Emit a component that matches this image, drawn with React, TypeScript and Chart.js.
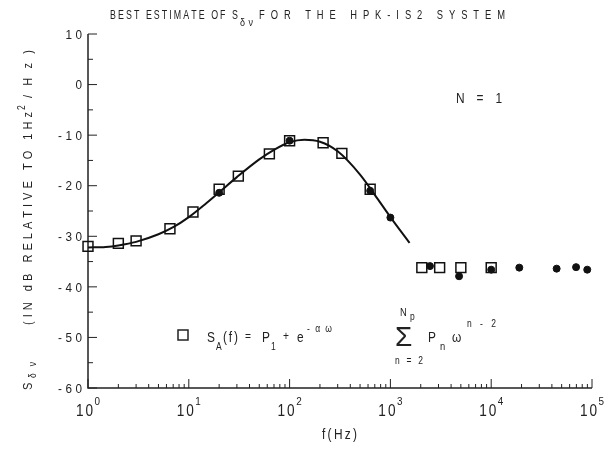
import { useEffect, useRef } from 'react';
import { Chart, registerables } from 'chart.js';

Chart.register(...registerables);

// ---- data ----
const curveFreq = [1, 1.5, 2, 3, 5, 7, 10, 15, 20, 30, 50, 70, 100, 140, 200, 300, 500, 700, 1000, 1550];
const curveDb = [-32.2, -32.1, -31.8, -31.1, -29.6, -28.2, -26.2, -23.4, -21.3, -18.3, -14.8, -12.9, -11.4, -10.9, -11.3, -13.2, -17.8, -21.8, -26.2, -31.3];

const squareFreq = [1, 2, 3, 6.5, 11, 20, 31, 63, 100, 215, 330, 630, 2050, 3080, 5000, 10000];
const squareDb = [-32.0, -31.4, -30.9, -28.5, -25.2, -20.7, -18.1, -13.7, -11.1, -11.5, -13.6, -20.7, -36.2, -36.2, -36.2, -36.2];

const dotFreq = [20, 100, 630, 1000, 2470, 4800, 10000, 19000, 44600, 69500, 89700];
const dotDb = [-21.4, -11.1, -21.0, -26.3, -35.9, -37.9, -36.6, -36.2, -36.4, -36.1, -36.6];

const yTickValues = [10, 0, -10, -20, -30, -40, -50, -60];
const xTickExponents = [0, 1, 2, 3, 4, 5];

const FONT = '"Liberation Sans", Arial, sans-serif';
const INK = '#222';

function charWidths(ctx: CanvasRenderingContext2D, text: string, size: number) {
  ctx.font = `${size}px ${FONT}`;
  return Array.from(text).map((ch) => ctx.measureText(ch).width);
}

function drawSpaced(ctx: CanvasRenderingContext2D, text: string, x: number, y: number, size: number, spacing: number, sx = 1) {
  const chars = Array.from(text);
  const ws = charWidths(ctx, text, size);
  let cx = x;
  chars.forEach((ch, i) => {
    ctx.save();
    ctx.translate(cx, y);
    ctx.scale(sx, 1);
    ctx.fillText(ch, 0, 0);
    ctx.restore();
    cx += ws[i] * sx + spacing;
  });
  return cx - spacing;
}

function spacedWidth(ctx: CanvasRenderingContext2D, text: string, size: number, spacing: number, sx = 1) {
  const ws = charWidths(ctx, text, size);
  return ws.reduce((a, b) => a + b * sx, 0) + spacing * (ws.length - 1);
}

function drawFit(ctx: CanvasRenderingContext2D, text: string, x1: number, x2: number, y: number, size: number, sx0 = 0.85) {
  const ws = charWidths(ctx, text, size);
  const n = ws.length;
  const W = ws.reduce((a, b) => a + b, 0) * sx0;
  if (n === 1) {
    const sx = Math.min(sx0, (x2 - x1) / (W / sx0));
    drawSpaced(ctx, text, x1, y, size, 0, sx);
    return;
  }
  let spacing = (x2 - x1 - W) / (n - 1);
  let sx = sx0;
  if (spacing < 0.3) {
    spacing = 0.3;
    sx = (x2 - x1 - spacing * (n - 1)) / (W / sx0);
  }
  drawSpaced(ctx, text, x1, y, size, spacing, sx);
}

const decorPlugin = {
  id: 'decor',
  beforeDatasetsDraw(chart: any) {
    const ctx: CanvasRenderingContext2D = chart.ctx;
    const xs = chart.scales.x;
    const ys = chart.scales.y;
    const left = xs.getPixelForValue(1);
    const right = xs.getPixelForValue(1e5);
    const top = ys.getPixelForValue(10);
    const bottom = ys.getPixelForValue(-60);
    ctx.save();
    ctx.strokeStyle = INK;
    ctx.lineWidth = 1.5;
    ctx.beginPath();
    ctx.moveTo(left, top);
    ctx.lineTo(left, bottom);
    ctx.lineTo(right, bottom);
    ctx.stroke();
    ctx.lineWidth = 1;
    ctx.beginPath();
    for (let v = -60; v <= 10; v += 5) {
      const y = ys.getPixelForValue(v);
      const len = v % 10 === 0 ? 9 : 5;
      ctx.moveTo(left, y);
      ctx.lineTo(left + len, y);
    }
    for (let e = 0; e < 5; e++) {
      for (let m = 1; m <= 9; m++) {
        const x = xs.getPixelForValue(m * Math.pow(10, e));
        const len = m === 1 ? 9 : 4;
        ctx.moveTo(x, bottom);
        ctx.lineTo(x, bottom - len);
      }
    }
    ctx.moveTo(right, bottom);
    ctx.lineTo(right, bottom - 9);
    ctx.stroke();
    ctx.restore();
  },
  afterDatasetsDraw(chart: any) {
    const ctx: CanvasRenderingContext2D = chart.ctx;
    const xs = chart.scales.x;
    const ys = chart.scales.y;
    const bottom = ys.getPixelForValue(-60);
    ctx.save();
    ctx.fillStyle = INK;
    ctx.textBaseline = 'alphabetic';

    // y tick labels
    yTickValues.forEach((v) => {
      const y = ys.getPixelForValue(v);
      const t = String(v);
      const w = spacedWidth(ctx, t, 13, 3.5, 0.9);
      drawSpaced(ctx, t, 82 - w, y + 4.7, 13, 3.5, 0.9);
    });

    // x tick labels 10^n
    xTickExponents.forEach((e) => {
      const x = xs.getPixelForValue(Math.pow(10, e));
      const wb = spacedWidth(ctx, '10', 16, 2, 0.85);
      const ws = spacedWidth(ctx, String(e), 11, 0, 0.9);
      const total = wb + 1.5 + ws;
      const x0 = x - total / 2;
      drawSpaced(ctx, '10', x0, bottom + 28, 16, 2, 0.85);
      drawSpaced(ctx, String(e), x0 + wb + 1.5, bottom + 17, 11, 0, 0.9);
    });

    // title
    drawFit(ctx, 'BEST ESTIMATE OF S', 110, 238, 19, 13, 0.68);
    drawFit(ctx, 'δν', 240, 253, 26, 10, 0.9);
    drawFit(ctx, 'FOR THE HPK-IS2 SYSTEM', 259, 505, 19, 13, 0.72);

    // x axis title
    drawFit(ctx, 'f(Hz)', 322, 357, 439, 14);

    // y axis title (rotated)
    ctx.save();
    ctx.translate(32, 0);
    ctx.rotate(-Math.PI / 2);
    drawFit(ctx, 'S', -390, -380, 0, 13);
    drawFit(ctx, 'δν', -378, -362, 4, 10);
    drawFit(ctx, '(IN dB RELATIVE TO 1Hz', -325, -112, 0, 13);
    drawFit(ctx, '2', -110, -103, -7, 10);
    drawFit(ctx, '/Hz)', -98, -50, 0, 13);
    ctx.restore();

    // N = 1
    drawFit(ctx, 'N = 1', 456, 502, 103, 14);

    // legend formula
    ctx.strokeStyle = INK;
    ctx.lineWidth = 1.5;
    ctx.strokeRect(178, 330, 10, 10);
    drawFit(ctx, 'S', 207, 216, 342, 14);
    drawFit(ctx, 'A', 216, 223, 350, 10);
    drawFit(ctx, '(f)', 223, 238, 342, 14);
    drawFit(ctx, '=', 245, 252, 340, 12);
    drawFit(ctx, 'P', 262, 270, 342, 14);
    drawFit(ctx, '1', 271, 276, 350, 10);
    drawFit(ctx, '+', 283, 290, 340, 12);
    drawFit(ctx, 'e', 297, 304, 342, 14);
    drawFit(ctx, '-αω', 307, 332, 332, 10);
    drawFit(ctx, 'Σ', 395, 421, 346, 28, 1);
    drawFit(ctx, 'N', 400, 409, 316, 11);
    drawFit(ctx, 'p', 410, 417, 320, 10);
    drawFit(ctx, 'n=2', 395, 423, 364, 10);
    drawFit(ctx, 'P', 428, 436, 342, 14);
    drawFit(ctx, 'n', 440, 447, 350, 11);
    drawFit(ctx, 'ω', 452, 463, 342, 14);
    drawFit(ctx, 'n-2', 467, 496, 327, 10);

    ctx.restore();
  },
};

export default function App() {
  const ref = useRef<HTMLCanvasElement | null>(null);
  useEffect(() => {
    if (!ref.current) return;
    const chart = new Chart(ref.current, {
      type: 'scatter',
      data: {
        datasets: [
          {
            label: 'fit',
            data: curveFreq.map((f, i) => ({ x: f, y: curveDb[i] })),
            showLine: true,
            borderColor: '#111',
            borderWidth: 2,
            pointRadius: 0,
            cubicInterpolationMode: 'monotone',
            order: 3,
            clip: false,
          } as any,
          {
            label: 'S_A(f)',
            data: squareFreq.map((f, i) => ({ x: f, y: squareDb[i] })),
            pointStyle: 'rect',
            pointRadius: 7,
            borderColor: '#111',
            borderWidth: 1.5,
            pointBorderWidth: 1.5,
            backgroundColor: 'rgba(0,0,0,0)',
            showLine: false,
            order: 2,
            clip: false,
          } as any,
          {
            label: 'measured',
            data: dotFreq.map((f, i) => ({ x: f, y: dotDb[i] })),
            pointStyle: 'circle',
            pointRadius: 3.5,
            borderColor: '#111',
            backgroundColor: '#111',
            showLine: false,
            order: 1,
            clip: false,
          } as any,
        ],
      },
      options: {
        responsive: false,
        animation: false,
        devicePixelRatio: 1,
        events: [],
        layout: { padding: { left: 88, right: 13, top: 34, bottom: 69 } },
        scales: {
          x: { type: 'logarithmic', min: 1, max: 1e5, display: false },
          y: { type: 'linear', min: -60, max: 10, display: false },
        },
        plugins: { legend: { display: false }, tooltip: { enabled: false }, title: { display: false } },
      },
      plugins: [decorPlugin],
    });
    return () => chart.destroy();
  }, []);
  return (
    <div style={{ position: 'fixed', left: 0, top: 0, width: 605, height: 457, background: '#fff' }}>
      <canvas ref={ref} width={605} height={457} style={{ display: 'block' }} />
    </div>
  );
}
